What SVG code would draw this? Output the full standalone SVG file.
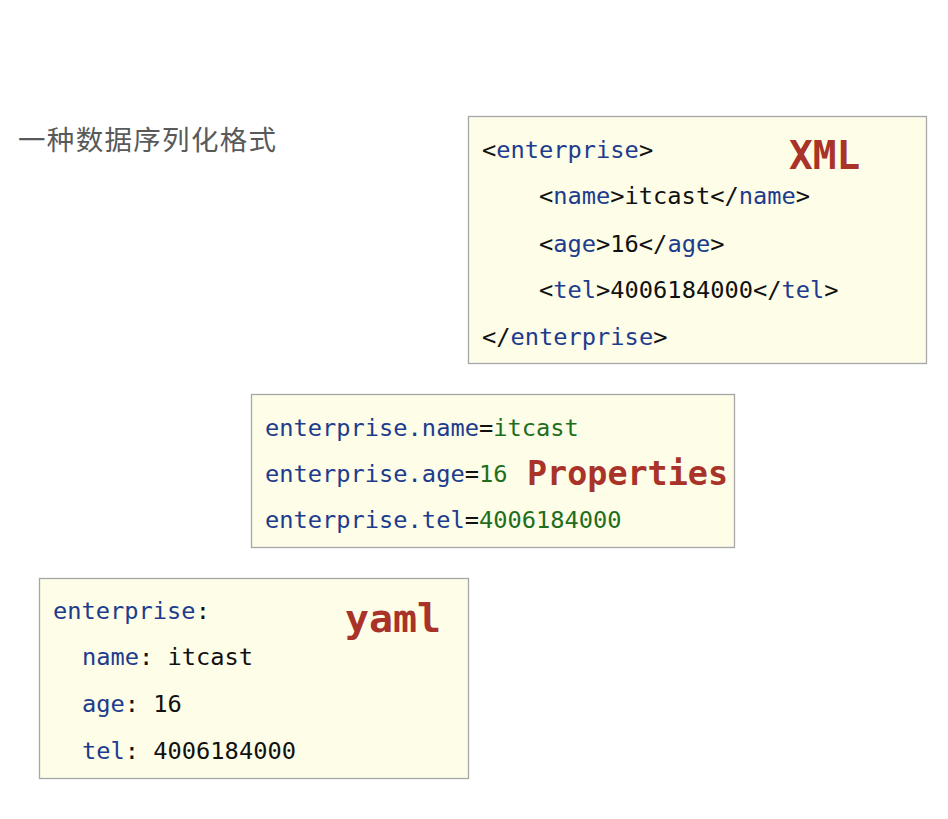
<svg xmlns="http://www.w3.org/2000/svg" width="948" height="819" viewBox="0 0 948 819">
<style>
.box{fill:#fdfde8;stroke:#a6a6a6;stroke-width:1.3}
.code{font-family:"DejaVu Sans Mono","Liberation Mono",monospace;font-size:23.7px;fill:#111}
.k{fill:#1d3c8e}
.g{fill:#1e6e1e}
.lbl{font-family:"DejaVu Sans Mono","Liberation Mono",monospace;font-weight:bold;fill:#a93328}
.title{font-family:"Noto Sans CJK SC","Noto Sans",sans-serif;font-size:27.5px;fill:#595959}
</style>
<rect width="948" height="819" fill="#ffffff"/>
<g id="title">
<text class="title" x="18" y="150" textLength="258" lengthAdjust="spacing">一种数据序列化格式</text>
</g>
<g id="xml">
<rect class="box" x="468.5" y="116.5" width="458" height="247"/>
<text class="code" x="482" y="158">&lt;<tspan class="k">enterprise</tspan>&gt;</text>
<text class="code" x="539" y="204">&lt;<tspan class="k">name</tspan>&gt;itcast&lt;/<tspan class="k">name</tspan>&gt;</text>
<text class="code" x="539" y="252">&lt;<tspan class="k">age</tspan>&gt;16&lt;/<tspan class="k">age</tspan>&gt;</text>
<text class="code" x="539" y="298">&lt;<tspan class="k">tel</tspan>&gt;4006184000&lt;/<tspan class="k">tel</tspan>&gt;</text>
<text class="code" x="482" y="345">&lt;/<tspan class="k">enterprise</tspan>&gt;</text>
<text class="lbl" x="789" y="169" font-size="39.4">XML</text>
</g>
<g id="properties">
<rect class="box" x="251.5" y="394.5" width="483" height="153"/>
<text class="code" x="265" y="436"><tspan class="k">enterprise.name</tspan>=<tspan class="g">itcast</tspan></text>
<text class="code" x="265" y="482"><tspan class="k">enterprise.age</tspan>=<tspan class="g">16</tspan></text>
<text class="code" x="265" y="528"><tspan class="k">enterprise.tel</tspan>=<tspan class="g">4006184000</tspan></text>
<text class="lbl" x="527" y="485" font-size="33.4">Properties</text>
</g>
<g id="yaml">
<rect class="box" x="39.5" y="578.5" width="429" height="200"/>
<text class="code" x="53" y="619"><tspan class="k">enterprise</tspan>:</text>
<text class="code" x="82" y="665"><tspan class="k">name</tspan>: itcast</text>
<text class="code" x="82" y="712"><tspan class="k">age</tspan>: 16</text>
<text class="code" x="82" y="759"><tspan class="k">tel</tspan>: 4006184000</text>
<text class="lbl" x="345" y="632" font-size="39.9">yaml</text>
</g>
<g id="connectors"/>
</svg>
